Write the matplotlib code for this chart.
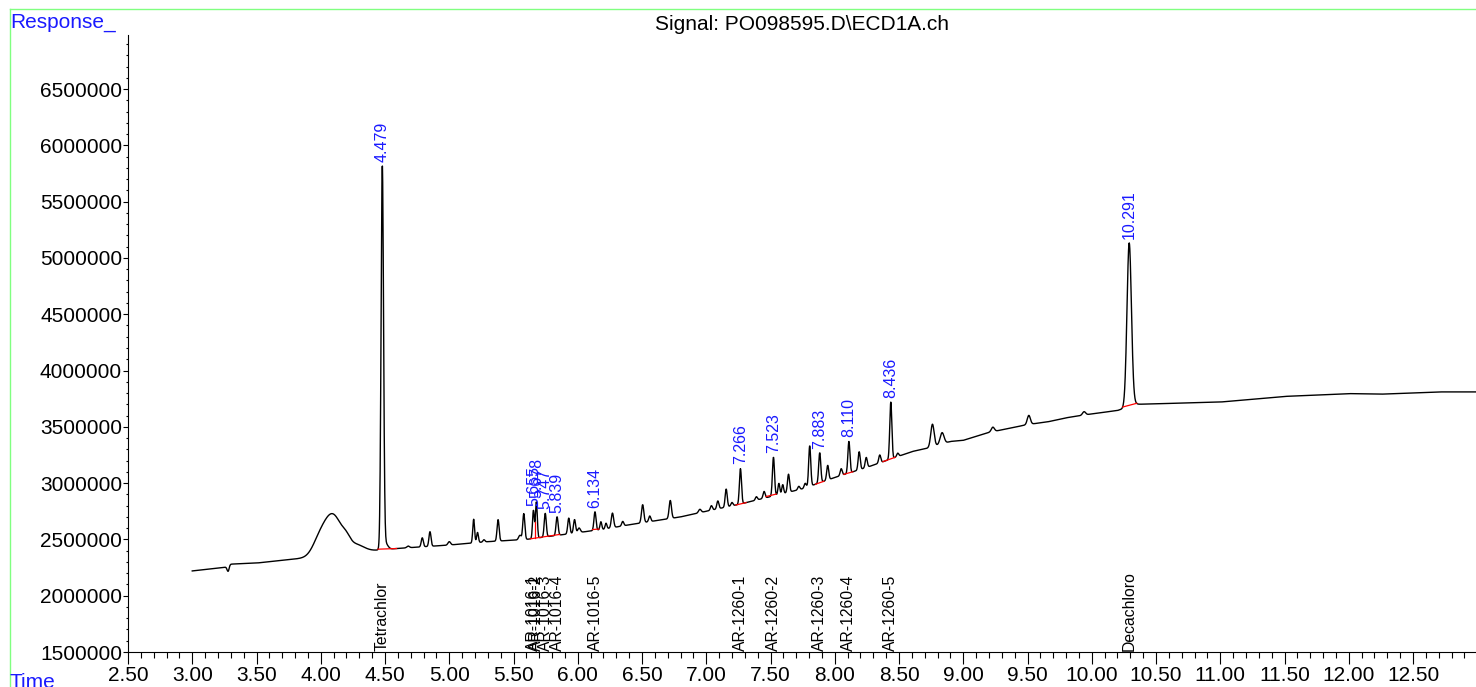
import numpy as np
import matplotlib.pyplot as plt
from matplotlib.ticker import MultipleLocator, FormatStrFormatter
from matplotlib.lines import Line2D

plt.rcParams['font.family'] = ['Liberation Sans', 'DejaVu Sans']

W, H = 1476, 687

# baseline drift of the signal (min, response / 1e6)
base_t = [3.00, 3.27, 3.29, 3.50, 3.75, 4.45, 4.60, 5.00, 5.30, 5.60, 5.90,
          6.20, 6.40, 6.60, 6.80, 7.00, 7.25, 7.50, 7.75, 8.00, 8.25, 8.45,
          8.60, 8.72, 8.90, 9.00, 9.20, 9.50, 9.66, 9.80, 10.00, 10.20, 10.35,
          11.00, 11.50, 12.00, 12.25, 12.70, 12.99]
base_y = [2.220, 2.255, 2.280, 2.290, 2.320, 2.405, 2.420, 2.450, 2.480, 2.500, 2.545,
          2.590, 2.630, 2.665, 2.700, 2.750, 2.810, 2.880, 2.950, 3.050, 3.140, 3.220,
          3.280, 3.310, 3.370, 3.380, 3.450, 3.520, 3.545, 3.580, 3.615, 3.645, 3.700,
          3.720, 3.770, 3.795, 3.790, 3.810, 3.810]

# peaks: retention time (min), height above baseline (1e6), sigma (min)
peak_rt = [3.28, 3.98, 4.09, 4.20, 4.28, 4.479, 4.50, 4.68, 4.79, 4.85, 5.00,
           5.19, 5.22, 5.27, 5.38, 5.55, 5.58, 5.655, 5.678, 5.747, 5.839,
           5.93, 5.975, 6.01, 6.134, 6.18, 6.22, 6.27, 6.35, 6.505, 6.56,
           6.72, 6.95, 7.04, 7.09, 7.155, 7.20, 7.266, 7.39, 7.45, 7.523,
           7.565, 7.595, 7.64, 7.72, 7.77, 7.805, 7.883, 7.945, 8.05, 8.110,
           8.19, 8.245, 8.35, 8.436, 8.49, 8.76, 8.835, 9.23, 9.51, 9.94,
           10.291, 10.31]
peak_h = [-0.050, 0.080, 0.360, 0.050, 0.060, 3.390, 0.060, 0.015, 0.080, 0.130, 0.030,
          0.210, 0.090, 0.020, 0.190, 0.040, 0.230, 0.250, 0.320, 0.210, 0.165,
          0.140, 0.120, 0.040, 0.165, 0.070, 0.050, 0.130, 0.040, 0.160, 0.050,
          0.160, 0.030, 0.040, 0.070, 0.160, 0.030, 0.314, 0.030, 0.060, 0.344,
          0.100, 0.080, 0.160, 0.030, 0.040, 0.360, 0.267, 0.130, 0.060, 0.280,
          0.160, 0.090, 0.070, 0.505, 0.030, 0.200, 0.100, 0.040, 0.080, 0.030,
          1.430, 0.040]
peak_w = [0.008, 0.050, 0.075, 0.030, 0.060, 0.0095, 0.020, 0.010, 0.008, 0.008, 0.010,
          0.007, 0.007, 0.008, 0.008, 0.010, 0.008, 0.007, 0.007, 0.008, 0.008,
          0.008, 0.008, 0.010, 0.008, 0.007, 0.007, 0.009, 0.008, 0.009, 0.008,
          0.009, 0.010, 0.008, 0.008, 0.008, 0.008, 0.008, 0.008, 0.008, 0.008,
          0.007, 0.007, 0.008, 0.008, 0.008, 0.008, 0.008, 0.008, 0.008, 0.008,
          0.008, 0.008, 0.008, 0.008, 0.008, 0.013, 0.015, 0.012, 0.012, 0.012,
          0.017, 0.020]

# integrated peaks
label_rt = [4.479, 5.655, 5.678, 5.747, 5.839, 6.134, 7.266, 7.523, 7.883, 8.110, 8.436, 10.291]
label_txt = ["4.479", "5.655", "5.678", "5.747", "5.839", "6.134",
             "7.266", "7.523", "7.883", "8.110", "8.436", "10.291"]
compound = ["Tetrachlor", "AR-1016-1", "AR-1016-2", "AR-1016-3", "AR-1016-4", "AR-1016-5",
            "AR-1260-1", "AR-1260-2", "AR-1260-3", "AR-1260-4", "AR-1260-5", "Decachloro"]

# integration baselines (red)
int_start = [4.445, 5.63, 6.115, 7.23, 7.465, 7.85, 8.07, 8.375, 10.24]
int_end = [4.59, 5.86, 6.165, 7.31, 7.545, 7.915, 8.14, 8.47, 10.35]
drop_t = [5.666, 8.07, 8.375]

# signal trace
t = np.arange(3.0, 12.99, 0.002)
sig = np.interp(t, base_t, base_y)
for rt, h, w in zip(peak_rt, peak_h, peak_w):
    sig = sig + h * np.exp(-0.5 * ((t - rt) / w) ** 2)
sig = sig * 1e6

fig = plt.figure(figsize=(W / 100, H / 100), dpi=100)
ax = fig.add_axes([128 / W, 35 / H, (W - 128) / W, 617 / H])

ax.plot(t, sig, color='black', lw=1.0)

for s, e in zip(int_start, int_end):
    ax.plot([s, e], [np.interp(s, t, sig), np.interp(e, t, sig)], color='red', lw=0.9)
for d in drop_t:
    for s, e in zip(int_start, int_end):
        if s <= d <= e:
            ys = np.interp(s, t, sig)
            ye = np.interp(e, t, sig)
            yb = ys + (ye - ys) * (d - s) / (e - s)
            ax.plot([d, d], [yb, np.interp(d, t, sig)], color='red', lw=0.9)

for rt, txt, name in zip(label_rt, label_txt, compound):
    m = (t > rt - 0.012) & (t < rt + 0.012)
    top = sig[m].max()
    ax.annotate(txt, (rt, top), xytext=(0, 3), textcoords='offset points',
                rotation=90, ha='center', va='bottom', color='#1a1aff', fontsize=11.5)
    ax.annotate(name, (rt, 1.5e6), xytext=(0, 1), textcoords='offset points',
                rotation=90, ha='center', va='bottom', color='black', fontsize=11.3)

ax.set_xlim(2.5, 12.99)
ax.set_ylim(1.5e6, 6.98e6)
ax.spines['top'].set_visible(False)
ax.spines['right'].set_visible(False)
ax.xaxis.set_major_locator(MultipleLocator(0.5))
ax.xaxis.set_minor_locator(MultipleLocator(0.1))
ax.xaxis.set_major_formatter(FormatStrFormatter('%.2f'))
ax.yaxis.set_major_locator(MultipleLocator(500000))
ax.yaxis.set_minor_locator(MultipleLocator(100000))
ax.yaxis.set_major_formatter(FormatStrFormatter('%d'))
ax.tick_params(axis='x', which='major', length=8.5, width=0.8, pad=1.5, labelsize=15)
ax.tick_params(axis='x', which='minor', length=4.3, width=0.8)
ax.tick_params(axis='y', which='major', length=3.6, width=0.8, pad=0.7, labelsize=15)
ax.tick_params(axis='y', which='minor', length=1.5, width=0.8)

fig.text(802 / W, 1 - 30 / H, "Signal: PO098595.D\\ECD1A.ch", ha='center', va='baseline', fontsize=15)
fig.text(10 / W, 1 - 28 / H, "Response_", ha='left', va='baseline', fontsize=15, color='#1a1aff')
fig.text(10 / W, -1 / H, "Time", ha='left', va='baseline', fontsize=15, color='#1a1aff')

fig.add_artist(Line2D([9.5 / W, 9.5 / W], [0, 1 - 8.5 / H], transform=fig.transFigure, color='#80ff80', lw=1))
fig.add_artist(Line2D([9.5 / W, 1], [1 - 8.5 / H, 1 - 8.5 / H], transform=fig.transFigure, color='#80ff80', lw=1))

fig.savefig("out.png", dpi=100)
